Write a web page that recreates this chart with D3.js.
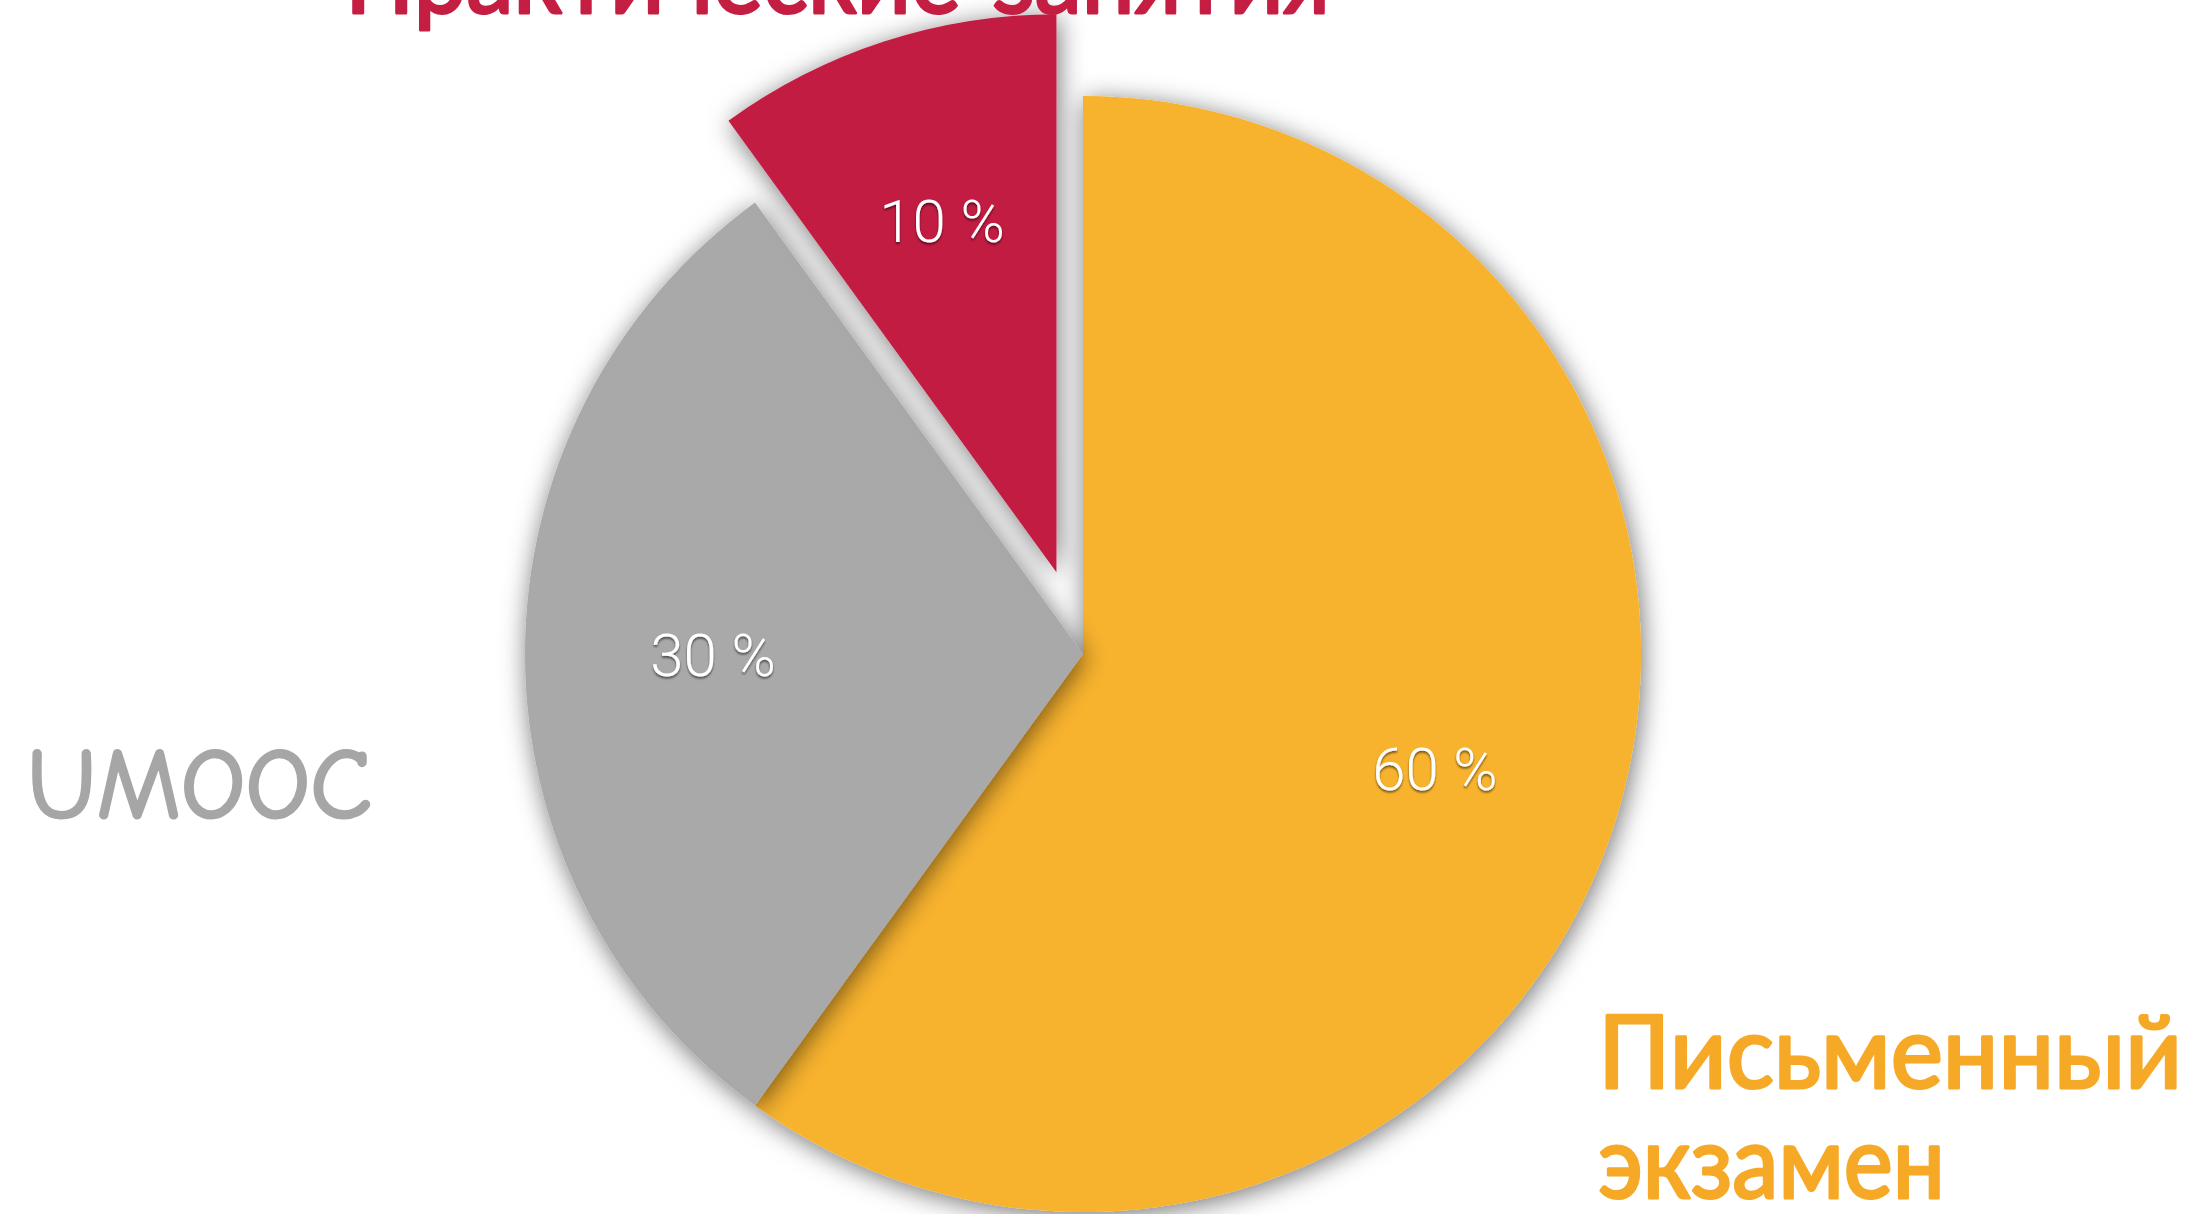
<!DOCTYPE html>
<html>
<head>
<meta charset="utf-8">
<script src="https://cdn.jsdelivr.net/npm/d3@7"></script>
<style>
  html, body { margin: 0; padding: 0; background: #fff; overflow: hidden; }
  .pct { font-family: "Helvetica Neue", Roboto, "Liberation Sans", sans-serif; font-weight: 300; }
  .cat { font-family: "Comic Sans MS", "Comic Neue", Lato, "Noto Sans", sans-serif; font-weight: 400; }
</style>
</head>
<body>
<div id="chart"></div>
<script>
// datos del gráfico
const categories = ["Письменный экзамен", "UMOOC", "Практические занятия"];
const values = [60, 30, 10];
const pctLabels = ["60 %", "30 %", "10 %"];

// configuración
var width = 2196, height = 1214;
var cx = 1083, cy = 654, radius = 558;
var explodeOffset = 86;
var labelRadius = 370;

var fill = d3.scaleOrdinal().domain(categories).range(["#F8B32D", "#A9A9A9", "#C21E42"]);
var textColor = d3.scaleOrdinal().domain(categories).range(["#F6A926", "#A6A6A6", "#C41E42"]);

var svg = d3.select("#chart").append("svg")
  .attr("width", width)
  .attr("height", height);

var defs = svg.append("defs");
var sh = defs.append("filter").attr("id", "shadow")
  .attr("x", "-20%").attr("y", "-20%").attr("width", "140%").attr("height", "140%");
sh.append("feDropShadow").attr("dx", 2).attr("dy", 4).attr("stdDeviation", 13)
  .attr("flood-color", "#000").attr("flood-opacity", 0.55);

var ts = defs.append("filter").attr("id", "tshadow")
  .attr("x", "-10%").attr("y", "-20%").attr("width", "120%").attr("height", "140%");
ts.append("feDropShadow").attr("dx", 0).attr("dy", 2).attr("stdDeviation", 1.2)
  .attr("flood-color", "#000").attr("flood-opacity", 0.55);

var pie = d3.pie().sort(null).value(d => d);
var arcs = pie(values);
var arc = d3.arc().innerRadius(0).outerRadius(radius);
var labelArc = d3.arc().innerRadius(labelRadius).outerRadius(labelRadius);

// el último sector (10 %) está separado
function offset(d, i) {
  if (i !== arcs.length - 1) return [0, 0];
  var a = (d.startAngle + d.endAngle) / 2;
  return [Math.sin(a) * explodeOffset, -Math.cos(a) * explodeOffset];
}

var g = svg.append("g").attr("transform", "translate(" + cx + "," + cy + ")");

var slices = g.selectAll("g.slice")
  .data(arcs)
  .enter().append("g")
  .attr("class", "slice")
  .attr("transform", (d, i) => "translate(" + offset(d, i) + ")");

slices.append("path")
  .attr("d", arc)
  .attr("fill", (d, i) => fill(categories[i]))
  .attr("filter", "url(#shadow)");

slices.append("text")
  .attr("class", "pct")
  .attr("transform", d => "translate(" + labelArc.centroid(d) + ")")
  .attr("text-anchor", "middle")
  .attr("dy", "0.36em")
  .attr("font-size", 60)
  .attr("fill", "#fff")
  .attr("filter", "url(#tshadow)")
  .text((d, i) => pctLabels[i]);

// etiquetas de categorías
var catPos = [
  { x: 1598, lines: [{ t: "Письменный", y: 1088, w: 584 }, { t: "экзамен", y: 1198, w: 347 }] },
  { x: 27, lines: [{ t: "UMOOC", y: 818, w: 345 }] },
  { x: 345, lines: [{ t: "Практические занятия", y: 13, w: 985 }] }
];

catPos.forEach(function (p, i) {
  p.lines.forEach(function (l) {
    svg.append("text")
      .attr("class", "cat")
      .attr("x", p.x)
      .attr("y", l.y)
      .attr("font-size", 100)
      .attr("fill", textColor(categories[i]))
      .attr("stroke", textColor(categories[i]))
      .attr("stroke-width", 3)
      .attr("stroke-linejoin", "round")
      .attr("textLength", l.w)
      .attr("lengthAdjust", "spacingAndGlyphs")
      .text(l.t);
  });
});
</script>
</body>
</html>
